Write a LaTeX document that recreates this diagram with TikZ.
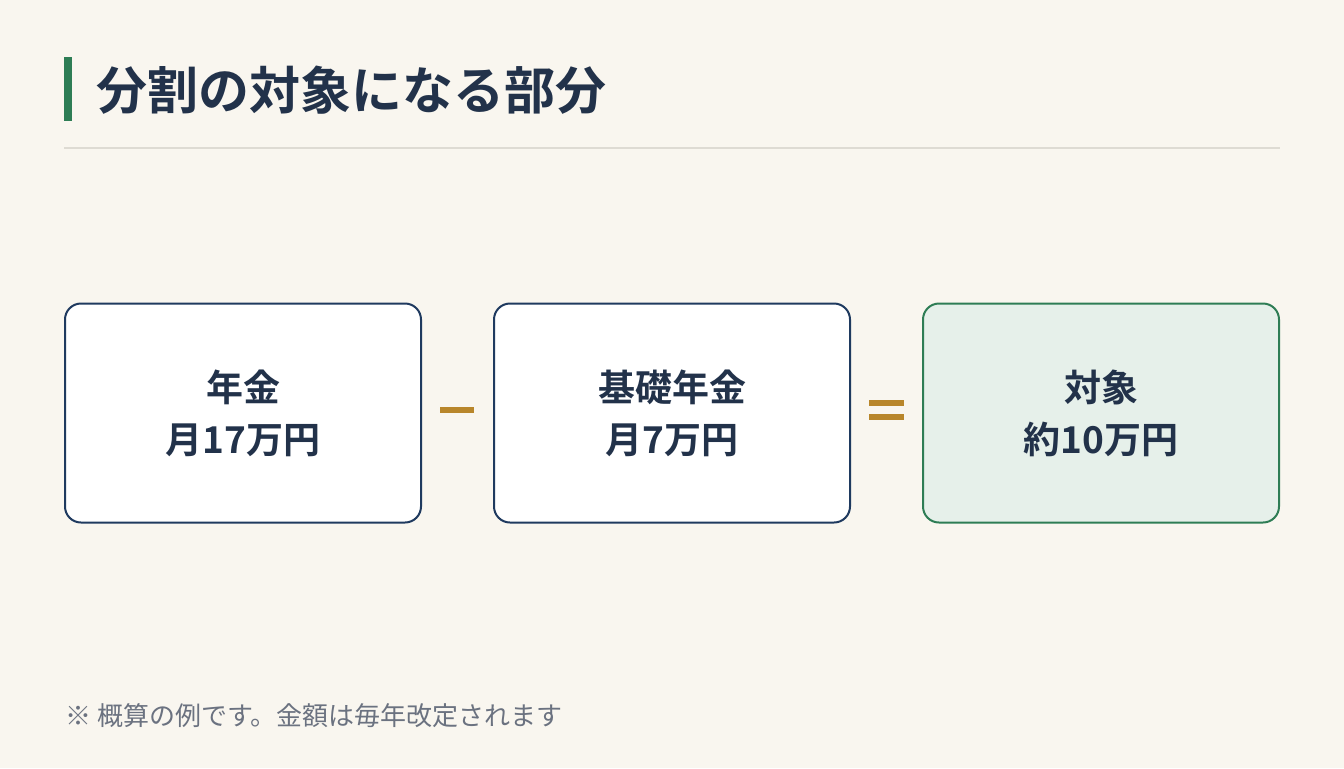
\documentclass[tikz,border=0pt]{standalone}
\usepackage{fontspec}
\newfontfamily\cjk{Noto Sans CJK JP}
\newfontfamily\cjkb{Noto Sans CJK JP Bold}
\definecolor{bg}{HTML}{F9F6EF}
\definecolor{navy}{HTML}{22324A}
\definecolor{boxline}{HTML}{1F3A5F}
\definecolor{grn}{HTML}{2E7D55}
\definecolor{grnfill}{HTML}{E6F0EA}
\definecolor{gold}{HTML}{B8862B}
\definecolor{rule}{HTML}{DEDBD3}
\definecolor{note}{HTML}{6B7280}
\begin{document}
\begin{tikzpicture}[x=0.5pt,y=-0.5pt,
  box/.style={draw=boxline,line width=1pt,fill=white,rounded corners=8pt,minimum width=178pt,minimum height=109.5pt,inner sep=0pt,align=center,font=\cjkb\fontsize{18.5}{26}\selectfont,text=navy},
  res/.style={box,draw=grn,fill=grnfill},
  op/.style={line width=3pt,draw=gold}]
\fill[bg] (0,0) rectangle (1344,768);
\useasboundingbox (0,0) rectangle (1344,768);
\fill[grn] (64,57) rectangle (72,121);
\node[anchor=west,inner sep=0pt,text=navy,font=\cjkb\fontsize{25.5}{30}\selectfont] (title) at (96,90) {分割の対象になる部分};
\draw[rule,line width=1.2pt] (64,148) -- (1280,148);
\node[box] (a) at (243,413) {年金\\月17万円};
\node[box] (b) at (672,413) {基礎年金\\月7万円};
\node[res] (c) at (1101,413) {対象\\約10万円};
\draw[draw=none] (a.east) -- (b.west) coordinate[pos=0.5] (mc) (b.east) -- (c.west) coordinate[pos=0.5] (ec);
\coordinate (m1) at (440,410); \coordinate (m2) at (474,410);
\draw[op] (m1) -- (m2);
\coordinate (e1) at (869,403); \coordinate (e2) at (904,403);
\coordinate (e3) at (869,417); \coordinate (e4) at (904,417);
\draw[op] (e1) -- (e2); \draw[op] (e3) -- (e4);
\node[anchor=west,inner sep=0pt,text=note,font=\cjk\fontsize{13}{15}\selectfont] (fn) at (65,716) {※ 概算の例です。金額は毎年改定されます};
\end{tikzpicture}
\end{document}
